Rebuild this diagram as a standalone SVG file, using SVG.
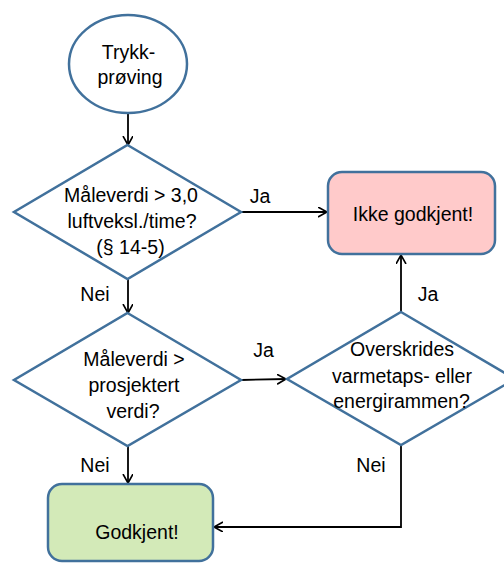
<svg xmlns="http://www.w3.org/2000/svg" width="504" height="563" viewBox="0 0 504 563">
<defs>
<marker id="arr" markerUnits="userSpaceOnUse" markerWidth="12" markerHeight="12" refX="9" refY="5" orient="auto">
<path d="M0,0 L9,5 L0,10" fill="none" stroke="#000" stroke-width="1.6"/>
</marker>
</defs>
<style>
.n{stroke:#41719C;stroke-width:2.5}
.t{font-family:"Liberation Sans",Arial,sans-serif;font-size:19.5px;fill:#000;text-anchor:middle}
.c{fill:none;stroke:#000;stroke-width:1.8;marker-end:url(#arr)}
</style>
<rect width="504" height="563" fill="#fff"/>
<g id="connectors">
<path class="c" d="M128,113 L128,145"/>
<path class="c" d="M241,212 L327,212"/>
<path class="c" d="M128,279 L128,313"/>
<path class="c" d="M241,380 L286,379"/>
<path class="c" d="M401,312 L401,255"/>
<path class="c" d="M128,446 L128,483"/>
<path class="c" d="M401,445 L401,527 L214,527"/>
<text class="t" x="260" y="203">Ja</text>
<text class="t" x="95" y="301">Nei</text>
<text class="t" x="428" y="301">Ja</text>
<text class="t" x="263.5" y="357">Ja</text>
<text class="t" x="95" y="472">Nei</text>
<text class="t" x="371" y="472">Nei</text>
</g>
<g id="start">
<ellipse class="n" cx="128" cy="64" rx="59" ry="49" fill="#fff"/>
<text class="t" x="128.5" y="59">Trykk-</text>
<text class="t" x="130" y="84">prøving</text>
</g>
<g id="d1">
<polygon class="n" points="127.5,145 241,212 127.5,279 14,212" fill="#fff"/>
<text class="t" x="131" y="202">Måleverdi &gt; 3,0</text>
<text class="t" x="132" y="228">luftveksl./time?</text>
<text class="t" x="130.5" y="254">(§ 14-5)</text>
</g>
<g id="ikke">
<rect class="n" x="328" y="172" width="167" height="82" rx="14" fill="#FFCACA"/>
<text class="t" x="413" y="221">Ikke godkjent!</text>
</g>
<g id="d2">
<polygon class="n" points="127.5,313 241,380 127.5,446 14,380" fill="#fff"/>
<text class="t" x="134" y="366">Måleverdi &gt;</text>
<text class="t" x="134" y="392">prosjektert</text>
<text class="t" x="133" y="418">verdi?</text>
</g>
<g id="d3">
<polygon class="n" points="401,312 515,379 401,445 287,379" fill="#fff"/>
<text class="t" x="402" y="356">Overskrides</text>
<text class="t" x="402" y="382.5">varmetaps- eller</text>
<text class="t" x="401.5" y="408">energirammen?</text>
</g>
<g id="godkjent">
<rect class="n" x="48" y="484" width="165" height="77" rx="14" fill="#D3EAB8"/>
<text class="t" x="137" y="538.5">Godkjent!</text>
</g>
</svg>
